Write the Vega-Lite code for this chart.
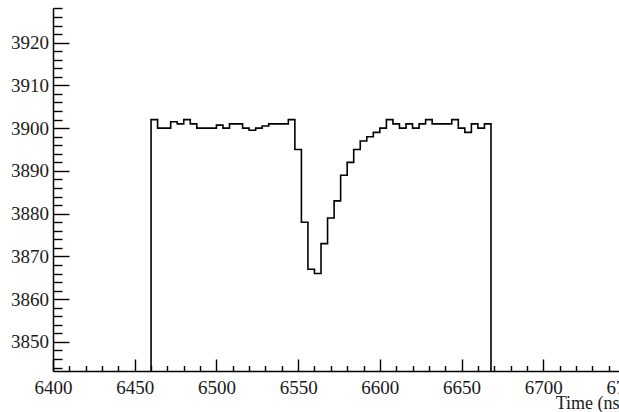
{
  "$schema": "https://vega.github.io/schema/vega-lite/v6.json",
  "autosize": {"type": "none"},
  "padding": {"left": 53, "top": 8, "right": 0, "bottom": 41},
  "width": 572,
  "height": 363,
  "background": "white",
  "config": {
    "view": {"stroke": null},
    "axis": {"grid": false, "labelFont": "Liberation Serif", "titleFont": "Liberation Serif", "labelColor": "#1a1a1a", "titleColor": "#1a1a1a", "tickColor": "black", "domainColor": "black", "tickWidth": 1.4, "domainWidth": 1.5}
  },
  "data": {"values": [
    {"i": 0, "t": 6460, "v": 3843.2},
    {"i": 1, "t": 6460, "v": 3902},
    {"i": 2, "t": 6464, "v": 3900},
    {"i": 3, "t": 6468, "v": 3900},
    {"i": 4, "t": 6472, "v": 3901.5},
    {"i": 5, "t": 6476, "v": 3901},
    {"i": 6, "t": 6480, "v": 3902},
    {"i": 7, "t": 6484, "v": 3901},
    {"i": 8, "t": 6488, "v": 3900},
    {"i": 9, "t": 6492, "v": 3900},
    {"i": 10, "t": 6496, "v": 3900},
    {"i": 11, "t": 6500, "v": 3900.7},
    {"i": 12, "t": 6504, "v": 3900},
    {"i": 13, "t": 6508, "v": 3901},
    {"i": 14, "t": 6512, "v": 3901},
    {"i": 15, "t": 6516, "v": 3900},
    {"i": 16, "t": 6520, "v": 3899.5},
    {"i": 17, "t": 6524, "v": 3900},
    {"i": 18, "t": 6528, "v": 3900.5},
    {"i": 19, "t": 6532, "v": 3901},
    {"i": 20, "t": 6536, "v": 3901},
    {"i": 21, "t": 6540, "v": 3901},
    {"i": 22, "t": 6544, "v": 3902},
    {"i": 23, "t": 6548, "v": 3895},
    {"i": 24, "t": 6552, "v": 3878},
    {"i": 25, "t": 6556, "v": 3867},
    {"i": 26, "t": 6560, "v": 3866},
    {"i": 27, "t": 6564, "v": 3873},
    {"i": 28, "t": 6568, "v": 3879},
    {"i": 29, "t": 6572, "v": 3883},
    {"i": 30, "t": 6576, "v": 3889},
    {"i": 31, "t": 6580, "v": 3892},
    {"i": 32, "t": 6584, "v": 3895},
    {"i": 33, "t": 6588, "v": 3897},
    {"i": 34, "t": 6592, "v": 3898},
    {"i": 35, "t": 6596, "v": 3899},
    {"i": 36, "t": 6600, "v": 3900},
    {"i": 37, "t": 6604, "v": 3902},
    {"i": 38, "t": 6608, "v": 3901},
    {"i": 39, "t": 6612, "v": 3900},
    {"i": 40, "t": 6616, "v": 3901},
    {"i": 41, "t": 6620, "v": 3900},
    {"i": 42, "t": 6624, "v": 3901},
    {"i": 43, "t": 6628, "v": 3902},
    {"i": 44, "t": 6632, "v": 3901},
    {"i": 45, "t": 6636, "v": 3901},
    {"i": 46, "t": 6640, "v": 3901},
    {"i": 47, "t": 6644, "v": 3902},
    {"i": 48, "t": 6648, "v": 3900},
    {"i": 49, "t": 6652, "v": 3899},
    {"i": 50, "t": 6656, "v": 3901},
    {"i": 51, "t": 6660, "v": 3900},
    {"i": 52, "t": 6664, "v": 3901},
    {"i": 53, "t": 6668, "v": 3901},
    {"i": 54, "t": 6668, "v": 3843.2}
  ]},
  "layer": [
    {
      "mark": {"type": "line", "interpolate": "step-after", "color": "black", "strokeWidth": 1.6, "clip": true},
      "encoding": {
        "x": {"field": "t", "type": "quantitative", "scale": {"domain": [6400, 6750], "nice": false, "zero": false},
          "axis": {"orient": "bottom", "values": [6400, 6450, 6500, 6550, 6600, 6650, 6700, 6750], "format": "d", "tickSize": -12, "labelPadding": 19, "labelFontSize": 19, "labelFlush": false, "labelOverlap": false, "labelBound": false, "title": "Time (ns)", "titleAnchor": "end", "titleFontSize": 18, "titleFontWeight": "normal", "titlePadding": -3}},
        "y": {"field": "v", "type": "quantitative", "scale": {"domain": [3843.2, 3928.1], "nice": false, "zero": false},
          "axis": {"orient": "left", "values": [3850, 3860, 3870, 3880, 3890, 3900, 3910, 3920], "format": "d", "tickSize": -16, "labelPadding": 20.5, "labelFontSize": 19, "labelFlush": false, "labelOverlap": false, "labelBound": false, "title": null}},
        "order": {"field": "i", "type": "quantitative"}
      }
    },
    {
      "mark": {"type": "line", "opacity": 0},
      "encoding": {
        "x": {"field": "t", "type": "quantitative",
          "axis": {"orient": "bottom", "values": [6410, 6420, 6430, 6440, 6460, 6470, 6480, 6490, 6510, 6520, 6530, 6540, 6560, 6570, 6580, 6590, 6610, 6620, 6630, 6640, 6660, 6670, 6680, 6690, 6710, 6720, 6730, 6740], "tickSize": -5.5, "labels": false, "domain": false, "title": null}},
        "y": {"field": "v", "type": "quantitative",
          "axis": {"orient": "left", "values": [3844, 3846, 3848, 3852, 3854, 3856, 3858, 3862, 3864, 3866, 3868, 3872, 3874, 3876, 3878, 3882, 3884, 3886, 3888, 3892, 3894, 3896, 3898, 3902, 3904, 3906, 3908, 3912, 3914, 3916, 3918, 3922, 3924, 3926, 3928], "tickSize": -9, "labels": false, "domain": false, "title": null}}
      }
    }
  ],
  "resolve": {"axis": {"x": "independent", "y": "independent"}}
}
